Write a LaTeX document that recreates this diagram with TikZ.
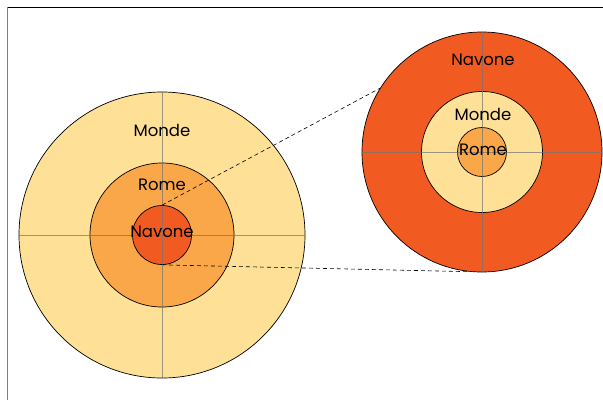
\documentclass[tikz,border=0pt]{standalone}
\usepackage{fontspec}
\setmainfont{Poppins}
\usepackage{tikz}
\usetikzlibrary{calc}
\definecolor{monde}{RGB}{254,225,150}
\definecolor{rome}{RGB}{249,167,72}
\definecolor{navone}{RGB}{241,91,34}

\begin{document}
\begin{tikzpicture}[x=1pt, y=-1pt,
    disc/.style={circle, draw=black, line width=0.7pt, inner sep=0pt},
    axis/.style={black!55, line width=1pt, opacity=0.7},
    zoomline/.style={dash pattern=on 4pt off 3pt, line width=0.6pt},
    lbl/.style={font=\fontsize{16.5}{18}\selectfont, inner sep=0pt}]
    \useasboundingbox (0,0) rectangle (603,400);
    % frame
    \draw[line width=0.9pt] (7,7) -- (603,7);
    \draw[gray, line width=0.9pt] (7,7) -- (7,400);
    % left target
    \coordinate (L) at (162,235);
    \node[disc, fill=monde, minimum size=286pt] (lmonde) at (L) {};
    \node[disc, fill=rome, minimum size=144pt] (lrome) at (L) {};
    \node[disc, fill=navone, minimum size=59pt] (lnavone) at (L) {};
    \draw[axis] (lmonde.north) -- (lmonde.south);
    \draw[axis] (lmonde.west) -- (lmonde.east);
    % right target
    \coordinate (R) at (482,152);
    \node[disc, fill=navone, minimum size=240pt] (rnavone) at (R) {};
    \node[disc, fill=monde, minimum size=121pt] (rmonde) at (R) {};
    \node[disc, fill=rome, minimum size=49pt] (rrome) at (R) {};
    \draw[axis] (rnavone.north) -- (rnavone.south);
    \draw[axis] (rnavone.west) -- (rnavone.east);
    % zoom lines
    \draw[zoomline] (lnavone.north) -- (rnavone.148.6);
    \draw[zoomline] (lnavone.south) -- (rnavone.264);
    % labels
    \node[lbl] (tlmonde) at (162,130) {Monde};
    \node[lbl] (tlrome) at (162,185) {Rome};
    \node[lbl] (tlnavone) at (162,232) {Navone};
    \node[lbl] (trnavone) at (483,60) {Navone};
    \node[lbl] (trmonde) at (483,114) {Monde};
    \node[lbl] (trrome) at (483,150) {Rome};
\end{tikzpicture}
\end{document}
